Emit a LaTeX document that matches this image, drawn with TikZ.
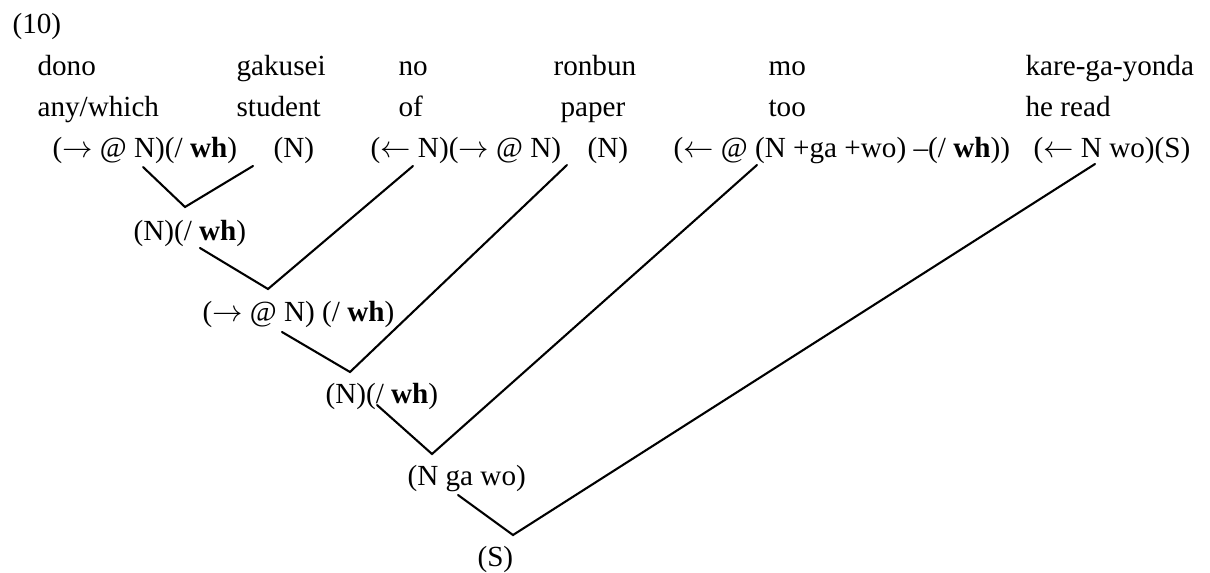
\documentclass[tikz,border=0pt]{standalone}
\usepackage{amsmath}
\usepackage{fontspec}
\setmainfont{Liberation Serif}
\usepackage{tikz}
\usetikzlibrary{positioning,calc}

\newcommand{\whf}{\textbf{wh}}

\begin{document}
\begin{tikzpicture}[
    x=0.36pt, y=-0.36pt,
    word/.style={anchor=base west, inner sep=0pt, font=\fontsize{10.5}{12}\selectfont},
    cat/.style={anchor=base west, inner sep=0pt, font=\fontsize{10.5}{12}\selectfont},
    link/.style={line width=0.75pt, line cap=round}
]
\useasboundingbox (0,0) rectangle (1210,572);

% Example number
\node[word] (num) at (12,34) {(10)};

% Japanese words
\node[word] (dono) at (37,76) {dono};
\node[word] (gakusei) at (236,76) {gakusei};
\node[word] (no) at (398,76) {no};
\node[word] (ronbun) at (553,76) {ronbun};
\node[word] (mo) at (768,76) {mo};
\node[word] (kare) at (1025,76) {kare-ga-yonda};

% Glosses
\node[word] (anywhich) at (37,116) {any/which};
\node[word] (student) at (236,116) {student};
\node[word] (of) at (398,116) {of};
\node[word] (paper) at (560,116) {paper};
\node[word] (too) at (768,116) {too};
\node[word] (heread) at (1025,116) {he read};

% Lexical categories
\node[cat] (donoc) at (52,157) {($\rightarrow$\ @ N)(/ \whf)};
\node[cat] (gakuseic) at (273,157) {(N)};
\node[cat] (noc) at (370,157) {($\leftarrow$\ N)($\rightarrow$\ @ N)};
\node[cat] (ronbunc) at (587,157) {(N)};
\node[cat] (moc) at (673,157) {($\leftarrow$\ @ (N +ga +wo) --(/ \whf))};
\node[cat] (karec) at (1033,157) {($\leftarrow$\ N wo)(S)};

% Combined categories
\node[cat] (np1) at (133,240) {(N)(/ \whf)};
\node[cat] (np2) at (202,321) {($\rightarrow$\ @ N) (/ \whf)};
\node[cat] (np3) at (325,403) {(N)(/ \whf)};
\node[cat] (np4) at (407,485) {(N ga wo)};
\node[cat] (s) at (477,566) {(S)};

% Branch ends
\coordinate (d1) at (143,167);
\coordinate (g1) at (253,166);
\coordinate (v1) at (185,207);
\coordinate (n1) at (200,248);
\coordinate (no1) at (413,166);
\coordinate (v2) at (268,289);
\coordinate (n2) at (282,332);
\coordinate (r1) at (567,165);
\coordinate (v3) at (350,372);
\coordinate (n3) at (377,405);
\coordinate (m1) at (757,165);
\coordinate (v4) at (432,454);
\coordinate (n4) at (458,495);
\coordinate (k1) at (1095,164);
\coordinate (v5) at (513,535);

% Branches
\draw[link] (d1) -- (v1) -- (g1);
\draw[link] (n1) -- (v2) -- (no1);
\draw[link] (n2) -- (v3) -- (r1);
\draw[link] (n3) -- (v4) -- (m1);
\draw[link] (n4) -- (v5) -- (k1);

\end{tikzpicture}
\end{document}
